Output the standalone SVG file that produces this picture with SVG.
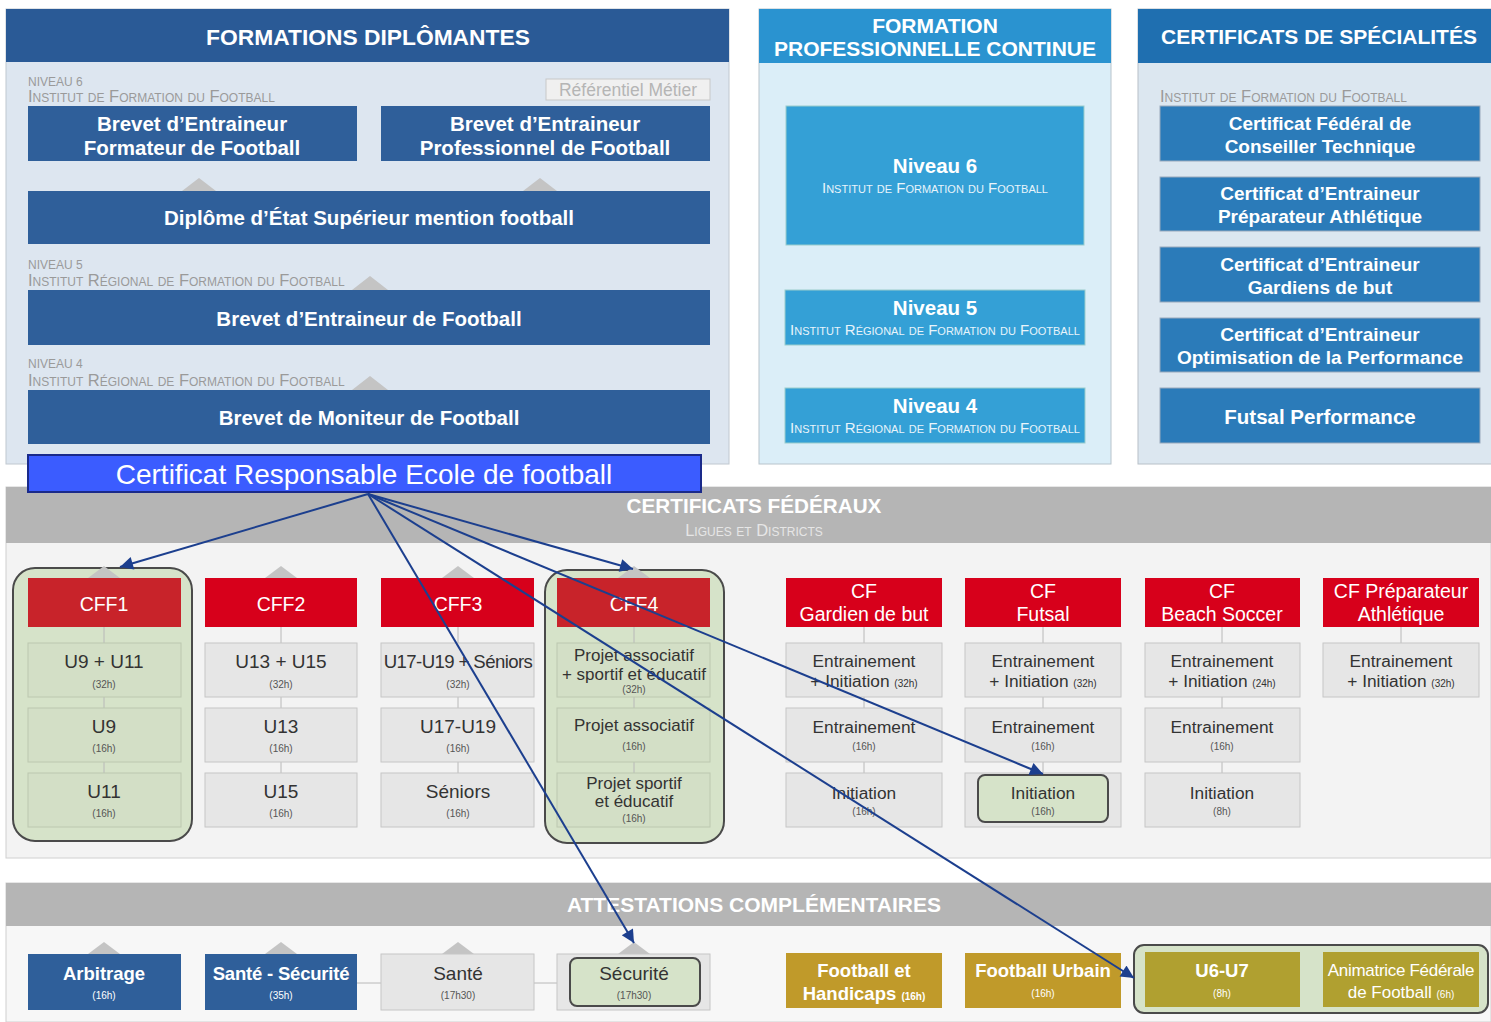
<svg xmlns="http://www.w3.org/2000/svg" width="1491" height="1022" viewBox="0 0 1491 1022">
<defs>
<style>
text{font-family:"Liberation Sans",Arial,sans-serif}
.hdr{font-size:21px;font-weight:bold;fill:#fff;text-anchor:middle}
.bt{font-size:20.5px;font-weight:bold;fill:#fff;text-anchor:middle}
.bt2{font-size:19px;font-weight:bold;fill:#fff;text-anchor:middle}
.sc{font-size:16.5px;fill:#9a9a9a;font-variant:small-caps}
.nv{font-size:12px;fill:#9a9a9a}
.scw{font-size:15px;fill:#e8f4fb;font-variant:small-caps;text-anchor:middle}
.dk{fill:#2f5f9a}
.mid{fill:#34a0d6;stroke:#9cc;stroke-width:1}
.spec{fill:#2b7bb9;stroke:#9ab;stroke-width:1}
.red{fill:#d7001b}
.gbox{fill:#e6e6e6;stroke:#c6c6c6;stroke-width:1}
.grbox{fill:#d3dfc6;stroke:#bcc8b0;stroke-width:1}
.hl{fill:#d6e3c9;stroke:#4a4a4a;stroke-width:2}
.rt{font-size:19.5px;fill:#fff;text-anchor:middle}
.gt{font-size:19px;fill:#333;text-anchor:middle}
.et{font-size:17.3px;fill:#333;text-anchor:middle}
.pt{font-size:17px;fill:#333;text-anchor:middle}
.gs{font-size:10px;fill:#555;text-anchor:middle}
.tri{fill:#c4c4c4}
.vl{stroke:#b8b8b8;stroke-width:1}
.gold{fill:#c09a2a}
.olive{fill:#b0a030}
.wt{font-size:18.5px;font-weight:bold;fill:#fff;text-anchor:middle}
.at{font-size:17px;fill:#fff;text-anchor:middle}
.ws{font-size:10px;fill:#fff;text-anchor:middle}
.conn{stroke:#1c3f8e;stroke-width:2;fill:none}
</style>
<marker id="ah" viewBox="0 0 10 10" refX="10" refY="5" markerWidth="15" markerHeight="13" markerUnits="userSpaceOnUse" orient="auto">
<path d="M0,0 L10,5 L0,10 z" fill="#1c3f8e"/>
</marker>
</defs>
<rect x="0" y="0" width="1491" height="1022" fill="#fff"/>

<!-- Panel 1 -->
<g id="panel-formations-diplomantes">
<rect x="6" y="9" width="723" height="455" fill="#dde6f0" stroke="#c0c8d0"/>
<rect x="6" y="9" width="723" height="53" fill="#2a5a96"/>
<text class="hdr" x="368" y="45" style="font-size:22.8px">FORMATIONS DIPLÔMANTES</text>
<text class="nv" x="28" y="86">NIVEAU 6</text>
<text class="sc" x="28" y="102">Institut de Formation du Football</text>
<rect x="546" y="79" width="164" height="21" fill="#f0f0f0" stroke="#c8c8c8"/>
<text x="628" y="96" font-size="17.5" fill="#b5b5b5" text-anchor="middle">Référentiel Métier</text>
</g>
<g id="node-bef">
<rect class="dk" x="28" y="106" width="329" height="55"/>
<text class="bt" x="192" y="131">Brevet d’Entraineur</text>
<text class="bt" x="192" y="155">Formateur de Football</text>
</g>
<g id="node-bepf">
<rect class="dk" x="381" y="106" width="329" height="55"/>
<text class="bt" x="545" y="131">Brevet d’Entraineur</text>
<text class="bt" x="545" y="155">Professionnel de Football</text>
</g>
<g id="node-dess">
<path class="tri" d="M182,191 L199,178 L216,191 z"/>
<path class="tri" d="M523,191 L540,178 L557,191 z"/>
<rect class="dk" x="28" y="191" width="682" height="53"/>
<text class="bt" x="369" y="225">Diplôme d’État Supérieur mention football</text>
</g>
<g id="node-bef5">
<text class="nv" x="28" y="269">NIVEAU 5</text>
<text class="sc" x="28" y="286">Institut Régional de Formation du Football</text>
<path class="tri" d="M352,290 L370,276 L388,290 z"/>
<rect class="dk" x="28" y="290" width="682" height="55"/>
<text class="bt" x="369" y="326">Brevet d’Entraineur de Football</text>
</g>
<g id="node-bmf">
<text class="nv" x="28" y="368">NIVEAU 4</text>
<text class="sc" x="28" y="386">Institut Régional de Formation du Football</text>
<path class="tri" d="M352,390 L370,376 L388,390 z"/>
<rect class="dk" x="28" y="390" width="682" height="54"/>
<text class="bt" x="369" y="425">Brevet de Moniteur de Football</text>
</g>

<!-- Panel 2 -->
<g id="panel-fpc">
<rect x="759" y="9" width="352" height="455" fill="#dbeef8" stroke="#b8c4cc"/>
<rect x="759" y="9" width="352" height="54" fill="#2a93d0"/>
<text class="hdr" x="935" y="33">FORMATION</text>
<text class="hdr" x="935" y="56">PROFESSIONNELLE CONTINUE</text>
</g>
<g id="node-fpc6">
<rect class="mid" x="786" y="106" width="298" height="139"/>
<text class="bt" x="935" y="173">Niveau 6</text>
<text class="scw" x="935" y="193">Institut de Formation du Football</text>
</g>
<g id="node-fpc5">
<rect class="mid" x="785" y="290" width="300" height="55"/>
<text class="bt" x="935" y="315">Niveau 5</text>
<text class="scw" x="935" y="335">Institut Régional de Formation du Football</text>
</g>
<g id="node-fpc4">
<rect class="mid" x="785" y="388" width="300" height="55"/>
<text class="bt" x="935" y="413">Niveau 4</text>
<text class="scw" x="935" y="433">Institut Régional de Formation du Football</text>
</g>

<!-- Panel 3 -->
<g id="panel-specialites">
<rect x="1138" y="9" width="360" height="455" fill="#dce7f0" stroke="#b8c0c8"/>
<rect x="1138" y="9" width="360" height="54" fill="#1f6fb0"/>
<text class="hdr" x="1319" y="44">CERTIFICATS DE SPÉCIALITÉS</text>
<text class="sc" x="1160" y="102">Institut de Formation du Football</text>
</g>
<g id="node-cfct">
<rect class="spec" x="1160" y="106" width="320" height="55"/>
<text class="bt2" x="1320" y="130">Certificat Fédéral de</text>
<text class="bt2" x="1320" y="153">Conseiller Technique</text>
</g>
<g id="node-cepa">
<rect class="spec" x="1160" y="177" width="320" height="54"/>
<text class="bt2" x="1320" y="200">Certificat d’Entraineur</text>
<text class="bt2" x="1320" y="223">Préparateur Athlétique</text>
</g>
<g id="node-cegb">
<rect class="spec" x="1160" y="247" width="320" height="55"/>
<text class="bt2" x="1320" y="271">Certificat d’Entraineur</text>
<text class="bt2" x="1320" y="294">Gardiens de but</text>
</g>
<g id="node-ceop">
<rect class="spec" x="1160" y="318" width="320" height="54"/>
<text class="bt2" x="1320" y="341">Certificat d’Entraineur</text>
<text class="bt2" x="1320" y="364">Optimisation de la Performance</text>
</g>
<g id="node-futsalperf">
<rect class="spec" x="1160" y="388" width="320" height="55"/>
<text class="bt" x="1320" y="424">Futsal Performance</text>
</g>

<!-- Certificats fédéraux section -->
<g id="panel-certificats-federaux">
<rect x="6" y="487" width="1485" height="371" fill="#f3f3f3" stroke="#d0d0d0"/>
<rect x="6" y="487" width="1485" height="56" fill="#b5b5b5"/>
<text class="hdr" x="754" y="513" style="font-size:20.7px">CERTIFICATS FÉDÉRAUX</text>
<text x="754" y="536" font-size="16.5" fill="#e6e6e6" text-anchor="middle" font-variant="small-caps">Ligues et Districts</text>
</g>

<g id="node-cff1">
<rect class="hl" x="13" y="568" width="179" height="273" rx="22"/>
<path class="tri" d="M88,578 L104,566 L120,578 z"/>
<line class="vl" x1="104" y1="627" x2="104" y2="773"/>
<rect x="28" y="578" width="153" height="49" fill="#c8232a"/>
<text class="rt" x="104" y="611">CFF1</text>
<rect class="grbox" x="28" y="643" width="153" height="54"/>
<text class="gt" x="104" y="668">U9 + U11</text><text class="gs" x="104" y="688">(32h)</text>
<rect class="grbox" x="28" y="708" width="153" height="54"/>
<text class="gt" x="104" y="733">U9</text><text class="gs" x="104" y="752">(16h)</text>
<rect class="grbox" x="28" y="773" width="153" height="54"/>
<text class="gt" x="104" y="798">U11</text><text class="gs" x="104" y="817">(16h)</text>
</g>
<g id="node-cff2">
<path class="tri" d="M265,578 L281,566 L297,578 z"/>
<line class="vl" x1="281" y1="627" x2="281" y2="773"/>
<rect class="red" x="205" y="578" width="152" height="49"/>
<text class="rt" x="281" y="611">CFF2</text>
<rect class="gbox" x="205" y="643" width="152" height="54"/>
<text class="gt" x="281" y="668">U13 + U15</text><text class="gs" x="281" y="688">(32h)</text>
<rect class="gbox" x="205" y="708" width="152" height="54"/>
<text class="gt" x="281" y="733">U13</text><text class="gs" x="281" y="752">(16h)</text>
<rect class="gbox" x="205" y="773" width="152" height="54"/>
<text class="gt" x="281" y="798">U15</text><text class="gs" x="281" y="817">(16h)</text>
</g>
<g id="node-cff3">
<path class="tri" d="M442,578 L458,566 L474,578 z"/>
<line class="vl" x1="458" y1="627" x2="458" y2="773"/>
<rect class="red" x="381" y="578" width="153" height="49"/>
<text class="rt" x="458" y="611">CFF3</text>
<rect class="gbox" x="381" y="643" width="153" height="54"/>
<text class="gt" x="458" y="668" style="font-size:18.6px" letter-spacing="-0.6">U17-U19 + Séniors</text><text class="gs" x="458" y="688">(32h)</text>
<rect class="gbox" x="381" y="708" width="153" height="54"/>
<text class="gt" x="458" y="733">U17-U19</text><text class="gs" x="458" y="752">(16h)</text>
<rect class="gbox" x="381" y="773" width="153" height="54"/>
<text class="gt" x="458" y="798">Séniors</text><text class="gs" x="458" y="817">(16h)</text>
</g>
<g id="node-cff4">
<rect class="hl" x="545" y="570" width="179" height="273" rx="22"/>
<path class="tri" d="M618,578 L634,566 L650,578 z"/>
<line class="vl" x1="634" y1="627" x2="634" y2="773"/>
<rect x="557" y="578" width="153" height="49" fill="#c8232a"/>
<text class="rt" x="634" y="611">CFF4</text>
<rect class="grbox" x="557" y="643" width="153" height="54"/>
<text class="pt" x="634" y="661">Projet associatif</text>
<text class="pt" x="634" y="680">+ sportif et éducatif</text>
<text class="gs" x="634" y="693">(32h)</text>
<rect class="grbox" x="557" y="708" width="153" height="54"/>
<text class="pt" x="634" y="731">Projet associatif</text><text class="gs" x="634" y="750">(16h)</text>
<rect class="grbox" x="557" y="773" width="153" height="54"/>
<text class="pt" x="634" y="789">Projet sportif</text>
<text class="pt" x="634" y="807">et éducatif</text>
<text class="gs" x="634" y="822">(16h)</text>
</g>

<g id="node-cf-gardien">
<line class="vl" x1="864" y1="627" x2="864" y2="773"/>
<rect class="red" x="786" y="578" width="156" height="49"/>
<text class="rt" x="864" y="598">CF</text>
<text class="rt" x="864" y="621">Gardien de but</text>
<rect class="gbox" x="786" y="643" width="156" height="54"/>
<text class="et" x="864" y="667">Entrainement</text>
<text class="et" x="864" y="687">+ Initiation <tspan font-size="10">(32h)</tspan></text>
<rect class="gbox" x="786" y="708" width="156" height="54"/>
<text class="et" x="864" y="733">Entrainement</text><text class="gs" x="864" y="750">(16h)</text>
<rect class="gbox" x="786" y="773" width="156" height="54"/>
<text class="et" x="864" y="799">Initiation</text><text class="gs" x="864" y="815">(16h)</text>
</g>
<g id="node-cf-futsal">
<line class="vl" x1="1043" y1="627" x2="1043" y2="773"/>
<rect class="red" x="965" y="578" width="156" height="49"/>
<text class="rt" x="1043" y="598">CF</text>
<text class="rt" x="1043" y="621">Futsal</text>
<rect class="gbox" x="965" y="643" width="156" height="54"/>
<text class="et" x="1043" y="667">Entrainement</text>
<text class="et" x="1043" y="687">+ Initiation <tspan font-size="10">(32h)</tspan></text>
<rect class="gbox" x="965" y="708" width="156" height="54"/>
<text class="et" x="1043" y="733">Entrainement</text><text class="gs" x="1043" y="750">(16h)</text>
<rect class="gbox" x="965" y="773" width="156" height="54"/>
<rect class="hl" x="978" y="775" width="130" height="47" rx="7"/>
<text class="et" x="1043" y="799">Initiation</text><text class="gs" x="1043" y="815">(16h)</text>
</g>
<g id="node-cf-beach">
<line class="vl" x1="1222" y1="627" x2="1222" y2="773"/>
<rect class="red" x="1145" y="578" width="155" height="49"/>
<text class="rt" x="1222" y="598">CF</text>
<text class="rt" x="1222" y="621">Beach Soccer</text>
<rect class="gbox" x="1145" y="643" width="155" height="54"/>
<text class="et" x="1222" y="667">Entrainement</text>
<text class="et" x="1222" y="687">+ Initiation <tspan font-size="10">(24h)</tspan></text>
<rect class="gbox" x="1145" y="708" width="155" height="54"/>
<text class="et" x="1222" y="733">Entrainement</text><text class="gs" x="1222" y="750">(16h)</text>
<rect class="gbox" x="1145" y="773" width="155" height="54"/>
<text class="et" x="1222" y="799">Initiation</text><text class="gs" x="1222" y="815">(8h)</text>
</g>
<g id="node-cf-prepa">
<line class="vl" x1="1401" y1="627" x2="1401" y2="643"/>
<rect class="red" x="1323" y="578" width="156" height="49"/>
<text class="rt" x="1401" y="598">CF Préparateur</text>
<text class="rt" x="1401" y="621">Athlétique</text>
<rect class="gbox" x="1323" y="643" width="156" height="54"/>
<text class="et" x="1401" y="667">Entrainement</text>
<text class="et" x="1401" y="687">+ Initiation <tspan font-size="10">(32h)</tspan></text>
</g>

<!-- Attestations -->
<g id="panel-attestations">
<rect x="6" y="883" width="1485" height="139" fill="#f7f7f7" stroke="#d0d0d0"/>
<rect x="6" y="883" width="1485" height="43" fill="#b5b5b5"/>
<text class="hdr" x="754" y="912">ATTESTATIONS COMPLÉMENTAIRES</text>
<line class="vl" x1="357" y1="983" x2="381" y2="983"/>
<line class="vl" x1="534" y1="983" x2="557" y2="983"/>
</g>
<g id="node-arbitrage">
<path class="tri" d="M88,954 L104,942 L120,954 z"/>
<rect class="dk" x="28" y="954" width="153" height="56"/>
<text class="wt" x="104" y="980">Arbitrage</text>
<text class="ws" x="104" y="999">(16h)</text>
</g>
<g id="node-sante-securite">
<path class="tri" d="M265,954 L281,942 L297,954 z"/>
<rect class="dk" x="205" y="954" width="152" height="56"/>
<text class="wt" x="281" y="980" letter-spacing="-0.2">Santé - Sécurité</text>
<text class="ws" x="281" y="999">(35h)</text>
</g>
<g id="node-sante">
<path class="tri" d="M442,954 L458,942 L474,954 z"/>
<rect class="gbox" x="381" y="954" width="153" height="56"/>
<text class="gt" x="458" y="980">Santé</text>
<text class="gs" x="458" y="999">(17h30)</text>
</g>
<g id="node-securite">
<path class="tri" d="M618,954 L634,942 L650,954 z"/>
<rect class="gbox" x="557" y="954" width="153" height="56"/>
<rect class="hl" x="570" y="958" width="130" height="48" rx="7"/>
<text class="gt" x="634" y="980">Sécurité</text>
<text class="gs" x="634" y="999">(17h30)</text>
</g>
<g id="node-handicaps">
<rect class="gold" x="786" y="953" width="156" height="55"/>
<text class="wt" x="864" y="977">Football et</text>
<text class="wt" x="864" y="1000">Handicaps <tspan font-size="10">(16h)</tspan></text>
</g>
<g id="node-urbain">
<rect class="gold" x="965" y="953" width="156" height="55"/>
<text class="wt" x="1043" y="977">Football Urbain</text>
<text class="ws" x="1043" y="997">(16h)</text>
</g>
<g id="node-u6u7-group">
<rect class="hl" x="1134" y="945" width="354" height="68" rx="10" fill="#dde8d2"/>
</g>
<g id="node-u6u7">
<rect class="olive" x="1145" y="952" width="155" height="55"/>
<text class="wt" x="1222" y="977">U6-U7</text>
<text class="ws" x="1222" y="997">(8h)</text>
</g>
<g id="node-animatrice">
<rect class="olive" x="1323" y="952" width="156" height="55"/>
<text class="at" x="1401" y="976" letter-spacing="-0.3">Animatrice Fédérale</text>
<text class="at" x="1401" y="998">de Football <tspan font-size="10">(6h)</tspan></text>
</g>

<!-- Certificat Responsable -->
<g id="node-cref">
<rect x="28" y="455" width="673" height="37" fill="#3b5cff" stroke="#1a2a8a" stroke-width="2"/>
<text x="364" y="484" font-size="28" fill="#fff" text-anchor="middle">Certificat Responsable Ecole de football</text>
</g>

<g id="connectors">
<line class="conn" x1="368" y1="494" x2="120" y2="567" marker-end="url(#ah)"/>
<line class="conn" x1="368" y1="494" x2="633" y2="569" marker-end="url(#ah)"/>
<line class="conn" x1="368" y1="494" x2="634" y2="943" marker-end="url(#ah)"/>
<line class="conn" x1="368" y1="494" x2="1043" y2="774" marker-end="url(#ah)"/>
<line class="conn" x1="368" y1="494" x2="1134" y2="978" marker-end="url(#ah)"/>
</g>
</svg>
